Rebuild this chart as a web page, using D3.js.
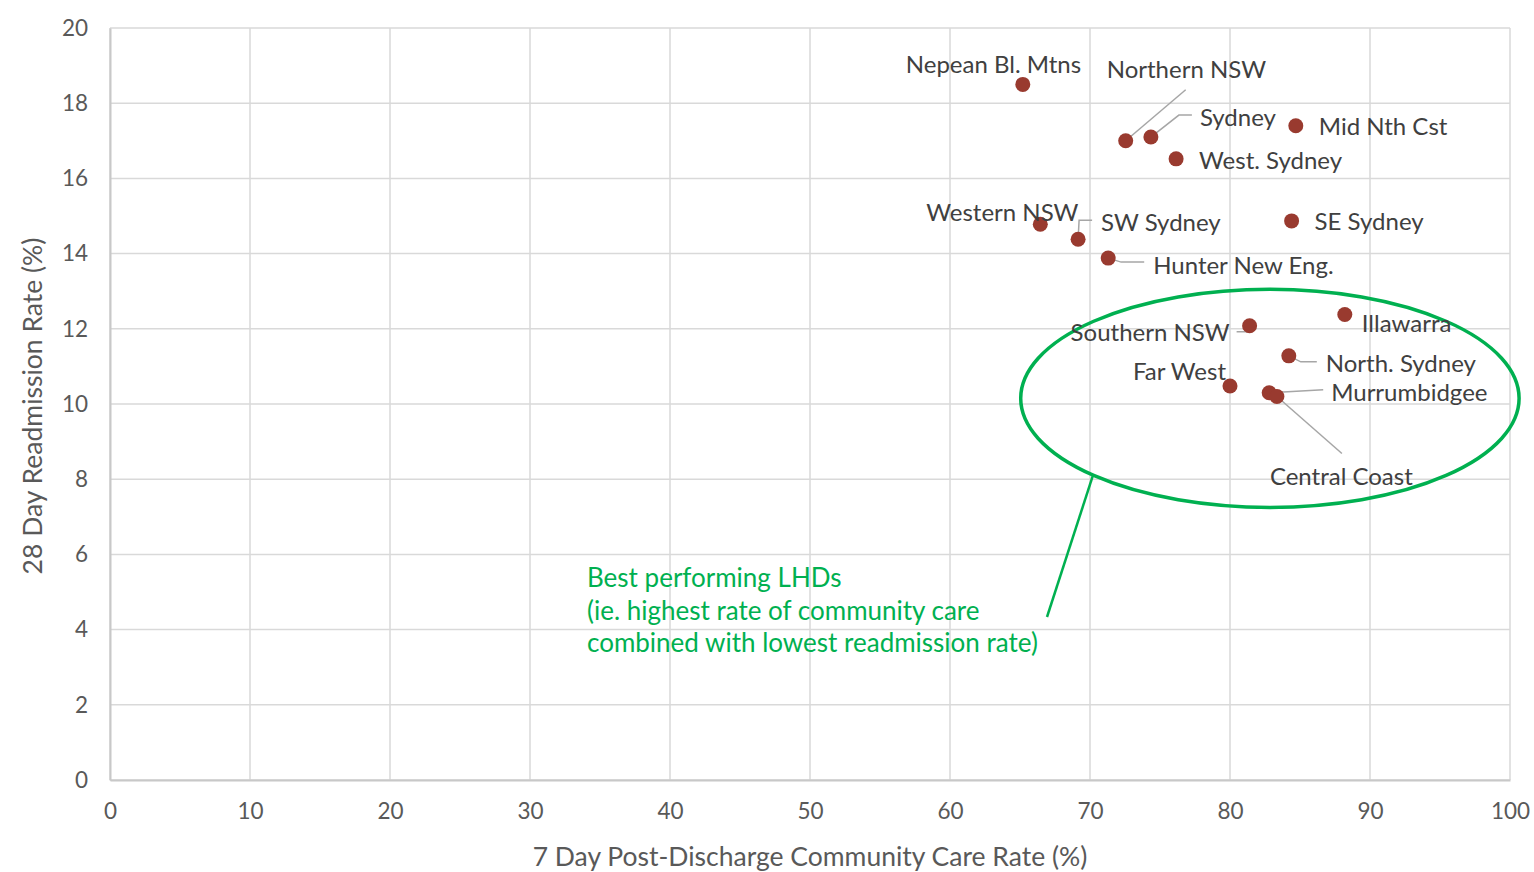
<!DOCTYPE html>
<html>
<head>
<meta charset="utf-8">
<script src="https://cdn.jsdelivr.net/npm/d3@7"></script>
<style>
  html, body { margin: 0; padding: 0; background: #fff; }
  svg { display: block; font-family: "Lato", "Open Sans", sans-serif; }
</style>
</head>
<body>
<svg id="chart" width="1534" height="872"></svg>
<script>
// ---- Data ----
const districts = ["Nepean Bl. Mtns", "Northern NSW", "Sydney", "Mid Nth Cst", "West. Sydney",
  "Western NSW", "SW Sydney", "SE Sydney", "Hunter New Eng.", "Southern NSW", "Illawarra",
  "North. Sydney", "Far West", "Murrumbidgee", "Central Coast"];
const communityCare = [65.2, 72.55, 74.35, 84.7, 76.15, 66.45, 69.15, 84.4, 71.3, 81.4, 88.2, 84.2, 80.0, 82.8, 83.35];
const readmission = [18.5, 17.0, 17.1, 17.4, 16.52, 14.78, 14.38, 14.87, 13.88, 12.08, 12.38, 11.28, 10.48, 10.3, 10.2];
const xTicks = [0, 10, 20, 30, 40, 50, 60, 70, 80, 90, 100];
const yTicks = [0, 2, 4, 6, 8, 10, 12, 14, 16, 18, 20];
const xTitle = "7 Day Post-Discharge Community Care Rate (%)";
const yTitle = "28 Day Readmission Rate (%)";
const noteLines = ["Best performing LHDs", "(ie. highest rate of community care", "combined with lowest readmission rate)"];
// highlighted region (data units): centre and half-widths
const highlightCentre = [82.85, 10.15];
const highlightRadius = [17.8, 2.9];

// ---- Layout (pixel offsets of labels / leader paths relative to the marker) ----
const labelLayout = {
  "Nepean Bl. Mtns": { dx: -117, dy: -20 },
  "Northern NSW":    { dx: -19, dy: -71, leader: [[60, -51]] },
  "Sydney":          { dx: 49, dy: -19, leader: [[28, -22], [41, -22]] },
  "Mid Nth Cst":     { dx: 23, dy: 1 },
  "West. Sydney":    { dx: 23, dy: 2 },
  "Western NSW":     { dx: -114, dy: -12 },
  "SW Sydney":       { dx: 23, dy: -17, leader: [[1, -19], [14, -19]] },
  "SE Sydney":       { dx: 23, dy: 1 },
  "Hunter New Eng.": { dx: 45, dy: 7, leader: [[13, 4], [36, 4]] },
  "Southern NSW":    { dx: -179, dy: 7, leader: [[-3, 6], [-13, 6]] },
  "Illawarra":       { dx: 17, dy: 9 },
  "North. Sydney":   { dx: 37, dy: 8, leader: [[12, 6], [28, 6]] },
  "Far West":        { dx: -97, dy: -14 },
  "Murrumbidgee":    { dx: 62, dy: 0, leader: [[54, -3]] },
  "Central Coast":   { dx: -7, dy: 80, leader: [[65, 57]] }
};

const svg = d3.select("#chart");
const margin = { left: 110, right: 24, top: 28, bottom: 92 };
const W = 1534, H = 872;
const x = d3.scaleLinear().domain([0, 100]).range([margin.left, W - margin.right]);
const y = d3.scaleLinear().domain([0, 20]).range([H - margin.bottom, margin.top]);

// gridlines
const grid = svg.append("g");
grid.selectAll("line.h").data(yTicks).join("line")
  .attr("x1", x(0)).attr("x2", x(100))
  .attr("y1", d => y(d)).attr("y2", d => y(d))
  .attr("stroke", "#d9d9d9").attr("stroke-width", 1.5);
grid.selectAll("line.v").data(xTicks).join("line")
  .attr("y1", y(0)).attr("y2", y(20))
  .attr("x1", d => x(d)).attr("x2", d => x(d))
  .attr("stroke", "#d9d9d9").attr("stroke-width", 1.5);

// axes
const xAxis = svg.append("g").attr("transform", `translate(0,${y(0)})`)
  .call(d3.axisBottom(x).tickValues(xTicks).tickSize(0).tickPadding(23));
const yAxis = svg.append("g").attr("transform", `translate(${x(0)},0)`)
  .call(d3.axisLeft(y).tickValues(yTicks).tickSize(0).tickPadding(22));
[xAxis, yAxis].forEach(a => {
  a.select(".domain").attr("stroke", "#c8c8c8").attr("stroke-width", 2);
  a.selectAll("text").attr("fill", "#595959").style("font-size", "22.5px").style("font-family", "Lato, sans-serif");
});

// axis titles
svg.append("text").attr("x", (x(0) + x(100)) / 2 + 0).attr("y", 866)
  .attr("text-anchor", "middle").attr("fill", "#595959").style("font-size", "26.5px").text(xTitle);
svg.append("text").attr("transform", `translate(42,${(y(0) + y(20)) / 2 + 2}) rotate(-90)`)
  .attr("text-anchor", "middle").attr("fill", "#595959").style("font-size", "26.5px").text(yTitle);

// highlight ellipse
const cx = x(highlightCentre[0]), cy = y(highlightCentre[1]);
const rx = x(highlightCentre[0] + highlightRadius[0]) - cx;
const ry = cy - y(highlightCentre[1] + highlightRadius[1]);
svg.append("ellipse").attr("cx", cx).attr("cy", cy).attr("rx", rx).attr("ry", ry)
  .attr("fill", "none").attr("stroke", "#00b050").attr("stroke-width", 3.5);

// annotation pointer from ellipse towards note
const ang = 2.36; // radians along ellipse (lower-left)
const px0 = cx + rx * Math.cos(ang), py0 = cy + ry * Math.sin(ang);
svg.append("line").attr("x1", px0).attr("y1", py0).attr("x2", 1047).attr("y2", 617)
  .attr("stroke", "#00b050").attr("stroke-width", 2.5);

// note text
svg.append("g").selectAll("text").data(noteLines).join("text")
  .attr("x", 587).attr("y", (d, i) => 587 + i * 32.5)
  .attr("fill", "#00b050").style("font-size", "26px").text(d => d);

// leader lines
const pts = districts.map((name, i) => ({ name, cx: communityCare[i], ry: readmission[i] }));
svg.append("g").selectAll("path").data(pts.filter(d => labelLayout[d.name].leader)).join("path")
  .attr("d", d => {
    const X = x(d.cx), Y = y(d.ry);
    return "M" + X + "," + Y + labelLayout[d.name].leader.map(p => "L" + (X + p[0]) + "," + (Y + p[1])).join("");
  })
  .attr("fill", "none").attr("stroke", "#a6a6a6").attr("stroke-width", 1.5);

// markers
svg.append("g").selectAll("circle").data(pts).join("circle")
  .attr("cx", d => x(d.cx)).attr("cy", d => y(d.ry)).attr("r", 7.5)
  .attr("fill", "#993a2f");

// labels
svg.append("g").selectAll("text").data(pts).join("text")
  .attr("x", d => x(d.cx) + labelLayout[d.name].dx)
  .attr("y", d => y(d.ry) + labelLayout[d.name].dy)
  .attr("dy", "0.35em")
  .attr("fill", "#404040").style("font-size", "24px")
  .text(d => d.name);
</script>
</body>
</html>
